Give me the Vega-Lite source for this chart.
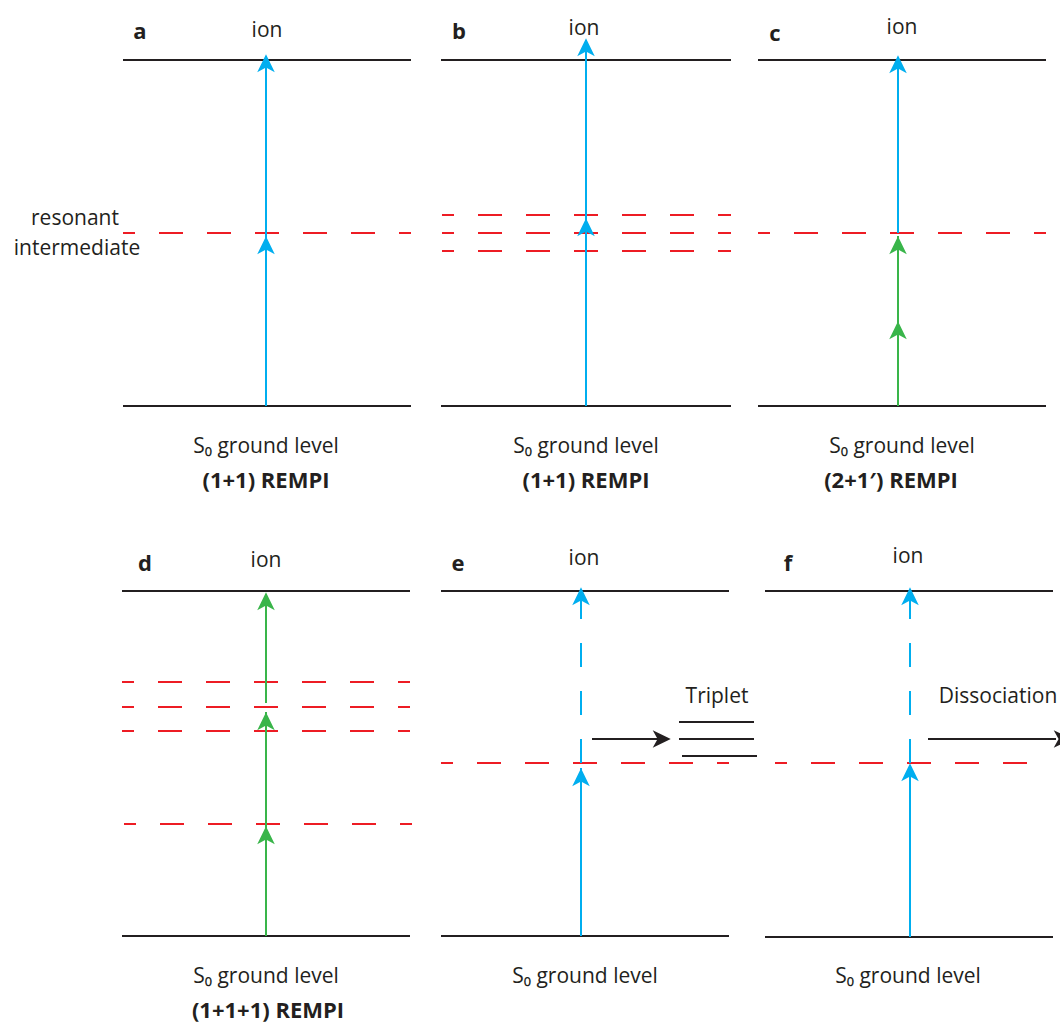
{
  "$schema": "https://vega.github.io/schema/vega-lite/v6.json",
  "width": 1060,
  "height": 1023,
  "autosize": {"type": "none"},
  "padding": 0,
  "background": "white",
  "config": {"view": {"stroke": null}, "text": {"font": "Open Sans"}},
  "datasets": {
    "levels": [
      {"panel": "a", "x": 123, "x2": 411, "y": 60},
      {"panel": "a", "x": 123, "x2": 411, "y": 406},
      {"panel": "b", "x": 441, "x2": 731, "y": 60},
      {"panel": "b", "x": 441, "x2": 731, "y": 406},
      {"panel": "c", "x": 758, "x2": 1046, "y": 60},
      {"panel": "c", "x": 758, "x2": 1046, "y": 406},
      {"panel": "d", "x": 122, "x2": 410, "y": 591},
      {"panel": "d", "x": 122, "x2": 410, "y": 936},
      {"panel": "e", "x": 441, "x2": 729, "y": 591},
      {"panel": "e", "x": 441, "x2": 729, "y": 936},
      {"panel": "f", "x": 765, "x2": 1053, "y": 591},
      {"panel": "f", "x": 765, "x2": 1053, "y": 937},
      {"panel": "e", "x": 679, "x2": 754, "y": 722},
      {"panel": "e", "x": 679, "x2": 754, "y": 739},
      {"panel": "e", "x": 682, "x2": 757, "y": 756}
    ],
    "intermediates": [
      {"panel": "a", "x": 123, "x2": 411, "y": 233},
      {"panel": "b", "x": 442, "x2": 731, "y": 215},
      {"panel": "b", "x": 442, "x2": 731, "y": 233},
      {"panel": "b", "x": 442, "x2": 731, "y": 251},
      {"panel": "c", "x": 758, "x2": 1046, "y": 233},
      {"panel": "d", "x": 122, "x2": 410, "y": 682},
      {"panel": "d", "x": 122, "x2": 410, "y": 707},
      {"panel": "d", "x": 122, "x2": 410, "y": 731},
      {"panel": "d", "x": 124, "x2": 412, "y": 824},
      {"panel": "e", "x": 441, "x2": 729, "y": 763},
      {"panel": "f", "x": 775, "x2": 1032, "y": 763}
    ],
    "beams": [
      {"panel": "a", "beam": "UV", "path": "real", "x": 266, "y": 406, "y2": 56},
      {"panel": "b", "beam": "UV", "path": "real", "x": 586, "y": 406, "y2": 40},
      {"panel": "c", "beam": "visible", "path": "real", "x": 898, "y": 406, "y2": 236},
      {"panel": "c", "beam": "UV", "path": "real", "x": 898, "y": 233, "y2": 57},
      {"panel": "d", "beam": "visible", "path": "real", "x": 266, "y": 936, "y2": 712},
      {"panel": "d", "beam": "visible", "path": "real", "x": 266, "y": 703, "y2": 594},
      {"panel": "e", "beam": "UV", "path": "real", "x": 581, "y": 936, "y2": 768},
      {"panel": "e", "beam": "UV", "path": "virtual", "x": 581, "y": 763, "y2": 595},
      {"panel": "f", "beam": "UV", "path": "real", "x": 910, "y": 937, "y2": 765},
      {"panel": "f", "beam": "UV", "path": "virtual", "x": 910, "y": 763, "y2": 595}
    ],
    "heads": [
      {"panel": "a", "beam": "UV", "x": 266, "y": 64},
      {"panel": "a", "beam": "UV", "x": 266, "y": 246},
      {"panel": "b", "beam": "UV", "x": 586, "y": 48},
      {"panel": "b", "beam": "UV", "x": 586, "y": 228},
      {"panel": "c", "beam": "UV", "x": 898, "y": 65},
      {"panel": "c", "beam": "visible", "x": 898, "y": 246},
      {"panel": "c", "beam": "visible", "x": 898, "y": 331},
      {"panel": "d", "beam": "visible", "x": 266, "y": 602},
      {"panel": "d", "beam": "visible", "x": 266, "y": 722},
      {"panel": "d", "beam": "visible", "x": 266, "y": 836},
      {"panel": "e", "beam": "UV", "x": 581, "y": 597},
      {"panel": "e", "beam": "UV", "x": 581, "y": 778},
      {"panel": "f", "beam": "UV", "x": 910, "y": 597},
      {"panel": "f", "beam": "UV", "x": 910, "y": 773}
    ],
    "transfers": [
      {"panel": "e", "process": "intersystem crossing", "x": 592, "x2": 660, "y": 739, "tip": 661},
      {"panel": "f", "process": "dissociation", "x": 928, "x2": 1056, "y": 739, "tip": 1062}
    ],
    "labels": [
      {"role": "panel", "text": "a", "x": 140, "y": 39},
      {"role": "panel", "text": "b", "x": 459, "y": 39},
      {"role": "panel", "text": "c", "x": 775, "y": 41},
      {"role": "panel", "text": "d", "x": 145, "y": 571},
      {"role": "panel", "text": "e", "x": 458, "y": 571},
      {"role": "panel", "text": "f", "x": 788, "y": 571},
      {"role": "level", "text": "ion", "x": 267, "y": 37},
      {"role": "level", "text": "ion", "x": 584, "y": 35},
      {"role": "level", "text": "ion", "x": 902, "y": 34},
      {"role": "level", "text": "ion", "x": 266, "y": 567},
      {"role": "level", "text": "ion", "x": 584, "y": 565},
      {"role": "level", "text": "ion", "x": 908, "y": 563},
      {"role": "level", "text": "resonant", "x": 75, "y": 225},
      {"role": "level", "text": "intermediate", "x": 77, "y": 255},
      {"role": "level", "text": "S₀ ground level", "x": 266, "y": 453},
      {"role": "level", "text": "S₀ ground level", "x": 586, "y": 453},
      {"role": "level", "text": "S₀ ground level", "x": 902, "y": 453},
      {"role": "level", "text": "S₀ ground level", "x": 266, "y": 983},
      {"role": "level", "text": "S₀ ground level", "x": 585, "y": 983},
      {"role": "level", "text": "S₀ ground level", "x": 908, "y": 983},
      {"role": "level", "text": "Triplet", "x": 717, "y": 703},
      {"role": "level", "text": "Dissociation", "x": 998, "y": 703},
      {"role": "scheme", "text": "(1+1) REMPI", "x": 266, "y": 488},
      {"role": "scheme", "text": "(1+1) REMPI", "x": 586, "y": 488},
      {"role": "scheme", "text": "(2+1′) REMPI", "x": 891, "y": 488},
      {"role": "scheme", "text": "(1+1+1) REMPI", "x": 268, "y": 1018}
    ]
  },
  "layer": [
    {
      "data": {"name": "levels"},
      "mark": {"type": "rule", "stroke": "#231f20", "strokeWidth": 2},
      "encoding": {
        "x": {"field": "x", "type": "quantitative", "scale": {"domain": [0, 1060], "nice": false, "zero": false}, "axis": null},
        "x2": {"field": "x2"},
        "y": {"field": "y", "type": "quantitative", "scale": {"domain": [0, 1023], "nice": false, "zero": false, "reverse": true}, "axis": null}
      }
    },
    {
      "data": {"name": "intermediates"},
      "mark": {"type": "rule", "stroke": "#ed1c24", "strokeWidth": 2, "strokeDash": [24, 24], "strokeDashOffset": 12},
      "encoding": {
        "x": {"field": "x", "type": "quantitative"},
        "x2": {"field": "x2"},
        "y": {"field": "y", "type": "quantitative"}
      }
    },
    {
      "data": {"name": "beams"},
      "mark": {"type": "rule", "strokeWidth": 2},
      "encoding": {
        "x": {"field": "x", "type": "quantitative"},
        "y": {"field": "y", "type": "quantitative"},
        "y2": {"field": "y2"},
        "color": {"field": "beam", "type": "nominal", "scale": {"domain": ["UV", "visible"], "range": ["#00aeef", "#39b54a"]}, "legend": null},
        "strokeDash": {"field": "path", "type": "nominal", "scale": {"domain": ["real", "virtual"], "range": [[1, 0], [24, 24]]}, "legend": null}
      }
    },
    {
      "data": {"name": "heads"},
      "mark": {"type": "point", "filled": true, "opacity": 1, "strokeWidth": 0, "size": 380, "shape": "M0,-1 L0.9,0.85 L0,0.35 L-0.9,0.85 Z"},
      "encoding": {
        "x": {"field": "x", "type": "quantitative"},
        "y": {"field": "y", "type": "quantitative"},
        "color": {"field": "beam", "type": "nominal", "legend": null}
      }
    },
    {
      "data": {"name": "transfers"},
      "mark": {"type": "rule", "stroke": "#231f20", "strokeWidth": 2},
      "encoding": {
        "x": {"field": "x", "type": "quantitative"},
        "x2": {"field": "x2"},
        "y": {"field": "y", "type": "quantitative"}
      }
    },
    {
      "data": {"name": "transfers"},
      "mark": {"type": "point", "filled": true, "opacity": 1, "strokeWidth": 0, "size": 380, "angle": 90, "color": "#231f20", "shape": "M0,-1 L0.9,0.85 L0,0.35 L-0.9,0.85 Z"},
      "encoding": {
        "x": {"field": "tip", "type": "quantitative"},
        "y": {"field": "y", "type": "quantitative"}
      }
    },
    {
      "data": {"name": "labels"},
      "transform": [{"filter": "datum.role === 'level'"}],
      "mark": {"type": "text", "fontSize": 21, "color": "#231f20", "baseline": "alphabetic", "align": "center"},
      "encoding": {
        "x": {"field": "x", "type": "quantitative"},
        "y": {"field": "y", "type": "quantitative"},
        "text": {"field": "text"}
      }
    },
    {
      "data": {"name": "labels"},
      "transform": [{"filter": "datum.role !== 'level'"}],
      "mark": {"type": "text", "fontSize": 22, "fontWeight": "bold", "color": "#231f20", "baseline": "alphabetic", "align": "center"},
      "encoding": {
        "x": {"field": "x", "type": "quantitative"},
        "y": {"field": "y", "type": "quantitative"},
        "text": {"field": "text"}
      }
    }
  ]
}
